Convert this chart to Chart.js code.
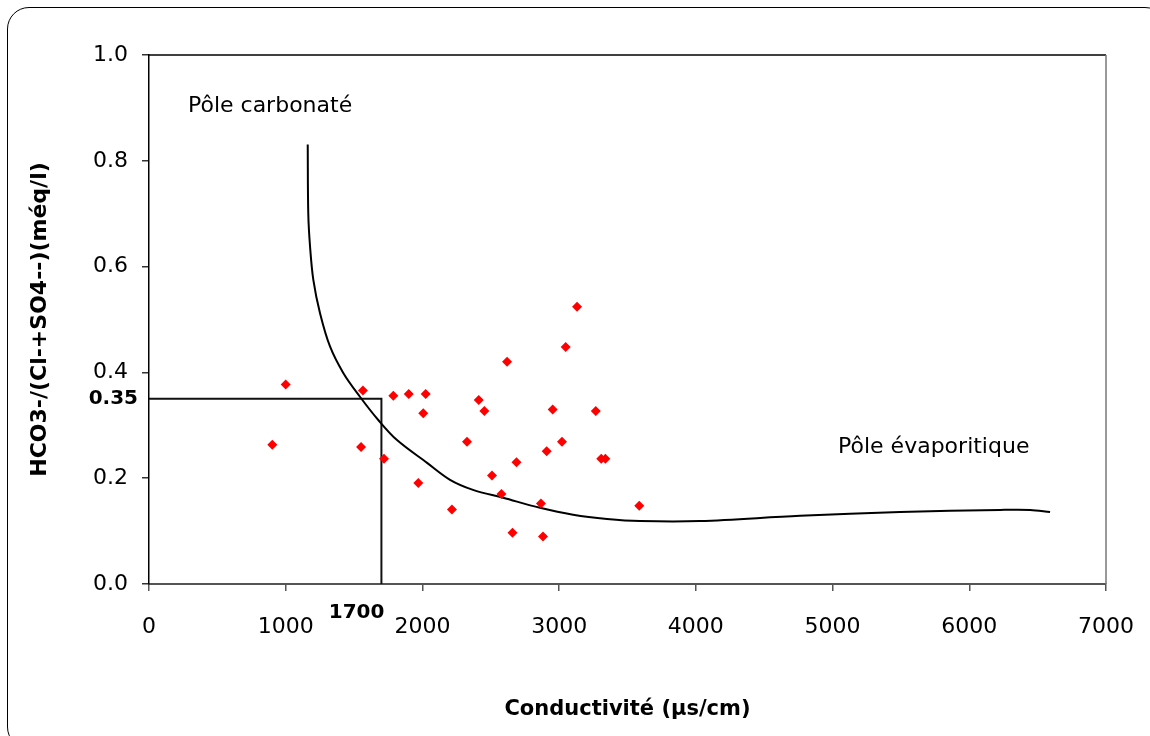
<!DOCTYPE html>
<html>
<head>
<meta charset="utf-8">
<script src="https://cdn.jsdelivr.net/npm/chart.js@4.4.1/dist/chart.umd.min.js"></script>
<style>
  html, body { margin: 0; padding: 0; background: #fff; overflow: hidden; }
  #wrap { position: relative; width: 1150px; height: 736px; }
  #frame {
    position: absolute; left: 7px; top: 7px; width: 1160px; height: 742px;
    border: 1.5px solid #000; border-radius: 22px; box-sizing: border-box;
  }
  #c { position: absolute; left: 0; top: 0; }
</style>
</head>
<body>
<div id="wrap">
  <div id="frame"></div>
  <canvas id="c" width="1150" height="736"></canvas>
</div>
<script>
// Water samples: conductivity (µS/cm) and HCO3-/(Cl- + SO4--) ratio (méq/l)
const conductivity = [1000, 902, 1565, 1551, 1787, 1900, 2024, 2006, 1719, 1970,
                      2216, 2619, 2412, 2453, 2326, 2688, 2509, 2578, 2659, 3131,
                      3048, 2953, 3268, 3021, 2909, 3308, 3338, 2867, 3586, 2882];
const ratio = [0.377, 0.263, 0.366, 0.259, 0.356, 0.359, 0.359, 0.323, 0.237, 0.191,
               0.141, 0.420, 0.348, 0.327, 0.269, 0.230, 0.205, 0.170, 0.097, 0.524,
               0.448, 0.330, 0.327, 0.269, 0.251, 0.237, 0.237, 0.152, 0.148, 0.090];

// Boundary between the carbonate and evaporite poles
const boundaryX = [1161, 1165, 1178, 1202, 1251, 1324, 1421, 1543, 1677, 1814, 2034, 2202,
                   2370, 2590, 2860, 3102, 3350, 3592, 4031, 4762, 5494, 6225, 6445, 6591];
const boundaryY = [0.831, 0.701, 0.638, 0.575, 0.512, 0.449, 0.399, 0.354, 0.310, 0.272, 0.229, 0.197,
                   0.178, 0.163, 0.144, 0.131, 0.123, 0.119, 0.119, 0.129, 0.136, 0.140, 0.140, 0.136];

// Threshold values
const thresholdX = 1700;
const thresholdY = 0.35;

// Axis ticks
const xTicks = [0, 1000, 2000, 3000, 4000, 5000, 6000, 7000];
const yTicks = [0.0, 0.2, 0.4, 0.6, 0.8, 1.0];

// Zone labels
const zoneNames = ['Pôle carbonaté', 'Pôle évaporitique'];
const zoneX = [285, 5040];
const zoneY = [0.904, 0.259];

const FONT = '"DejaVu Sans", sans-serif';

const samplePoints = conductivity.map((v, i) => ({ x: v, y: ratio[i] }));
const boundaryPoints = boundaryX.map((v, i) => ({ x: v, y: boundaryY[i] }));
const thresholdPoints = [
  { x: xTicks[0], y: thresholdY },
  { x: thresholdX, y: thresholdY },
  { x: thresholdX, y: yTicks[0] }
];

const annotate = {
  id: 'annotate',
  afterDatasetsDraw(chart) {
    const { ctx, chartArea: a, scales: { x, y } } = chart;
    ctx.save();
    // top and right edges of the plot box
    ctx.lineWidth = 1.5;
    ctx.strokeStyle = '#000';
    ctx.beginPath(); ctx.moveTo(a.left, a.top); ctx.lineTo(a.right, a.top); ctx.stroke();
    ctx.strokeStyle = '#777';
    ctx.beginPath(); ctx.moveTo(a.right, a.top); ctx.lineTo(a.right, a.bottom); ctx.stroke();

    ctx.fillStyle = '#000';
    ctx.textBaseline = 'middle';
    ctx.textAlign = 'left';
    ctx.font = '22px ' + FONT;
    zoneNames.forEach((t, i) => {
      ctx.fillText(t, x.getPixelForValue(zoneX[i]), y.getPixelForValue(zoneY[i]));
    });

    ctx.font = 'bold 20px ' + FONT;
    ctx.textAlign = 'right';
    ctx.fillText(String(thresholdX), x.getPixelForValue(thresholdX) + 3, a.bottom + 29);
    ctx.fillText(thresholdY.toFixed(2), a.left - 11, y.getPixelForValue(thresholdY));
    ctx.restore();
  }
};

new Chart(document.getElementById('c'), {
  type: 'scatter',
  data: {
    datasets: [
      {
        data: samplePoints,
        pointStyle: 'rectRot',
        pointRadius: 5,
        pointBackgroundColor: '#ff0000',
        pointBorderColor: '#ff0000',
        pointBorderWidth: 0,
        showLine: false
      },
      {
        data: boundaryPoints,
        showLine: true,
        pointRadius: 0,
        borderColor: '#000',
        borderWidth: 2,
        tension: 0.35,
        fill: false
      },
      {
        data: thresholdPoints,
        showLine: true,
        pointRadius: 0,
        borderColor: '#111',
        borderWidth: 2,
        tension: 0,
        fill: false
      }
    ]
  },
  options: {
    responsive: false,
    animation: false,
    devicePixelRatio: 1,
    layout: { padding: { left: 0, top: 55, right: 44, bottom: 0 } },
    plugins: { legend: { display: false }, tooltip: { enabled: false } },
    scales: {
      x: {
        type: 'linear',
        min: xTicks[0],
        max: xTicks[xTicks.length - 1],
        afterBuildTicks(scale) { scale.ticks = xTicks.map(v => ({ value: v })); },
        afterFit(scale) { scale.height = 152; scale.paddingLeft = 0; scale.paddingRight = 0; },
        ticks: {
          color: '#000',
          font: { family: FONT, size: 22 },
          padding: 23,
          maxRotation: 0,
          callback: v => String(v)
        },
        grid: { drawOnChartArea: false, drawTicks: true, tickLength: 7, color: '#555', lineWidth: 1.5 },
        border: { display: true, color: '#555', width: 2 },
        title: {
          display: true,
          text: 'Conductivité (µs/cm)',
          color: '#000',
          font: { family: FONT, size: 21, weight: 'bold' },
          padding: { top: 0, bottom: 14 }
        }
      },
      y: {
        type: 'linear',
        min: yTicks[0],
        max: yTicks[yTicks.length - 1],
        afterBuildTicks(scale) { scale.ticks = yTicks.map(v => ({ value: v })); },
        afterFit(scale) { scale.width = 149; scale.paddingTop = 0; scale.paddingBottom = 0; },
        ticks: {
          color: '#000',
          font: { family: FONT, size: 22 },
          padding: 14,
          callback: v => Number(v).toFixed(1)
        },
        grid: { drawOnChartArea: false, drawTicks: true, tickLength: 7, color: '#333', lineWidth: 1.5 },
        border: { display: true, color: '#000', width: 1.5 },
        title: {
          display: true,
          text: 'HCO3-/(Cl-+SO4--)(méq/l)',
          color: '#000',
          font: { family: FONT, size: 22, weight: 'bold' },
          padding: { top: 27, bottom: 0 }
        }
      }
    }
  },
  plugins: [annotate]
});
</script>
</body>
</html>
